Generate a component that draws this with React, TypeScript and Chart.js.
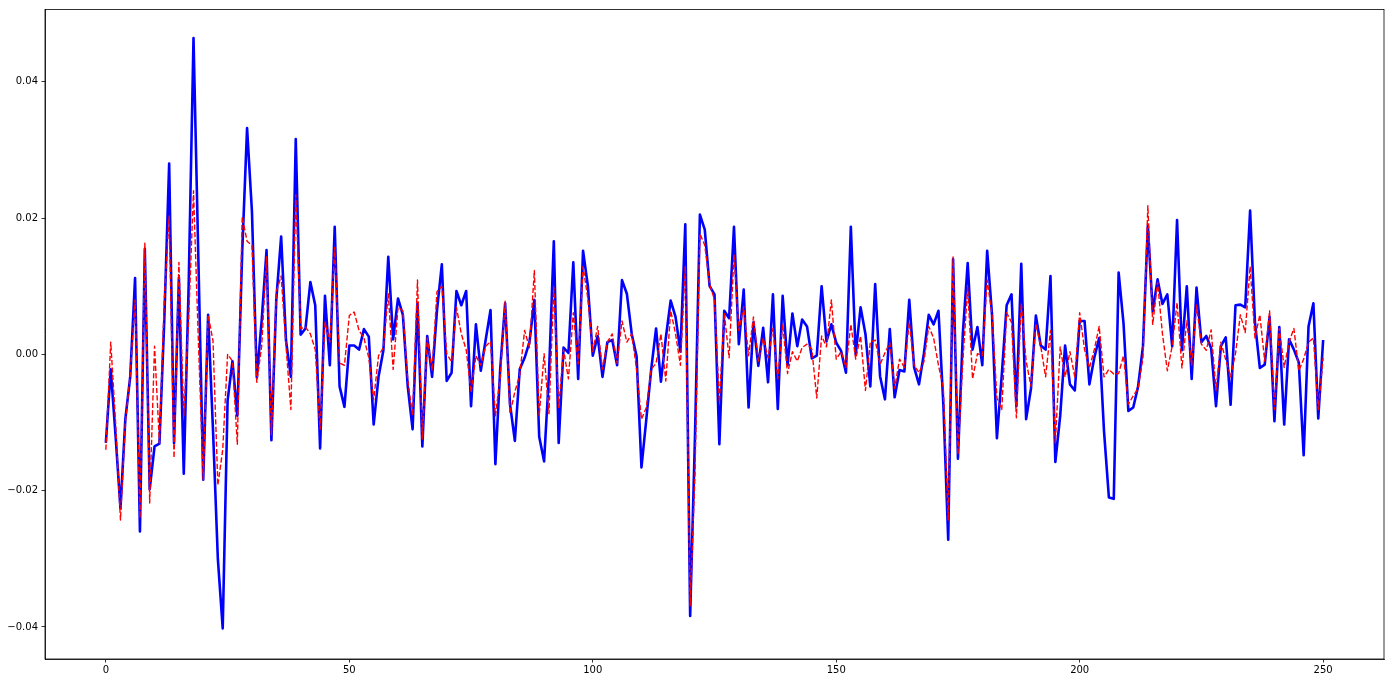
import React, { useEffect, useRef } from "react";
import { Chart, registerables } from "chart.js";

Chart.register(...registerables);

// actual series (blue, solid)
const actualValues: number[] = [
  -0.0130, -0.0022, -0.0120, -0.0226, -0.0095, -0.0033, 0.0112, -0.0260, 0.0155, -0.0198,
  -0.0135, -0.0131, 0.0050, 0.0280, -0.0130, 0.0112, -0.0175, 0.0100, 0.0464, 0.0140,
  -0.0184, 0.0058, -0.0110, -0.0300, -0.0402, -0.0068, -0.0010, -0.0090, 0.0150, 0.0332,
  0.0210, -0.0034, 0.0050, 0.0153, -0.0126, 0.0080, 0.0173, 0.0020, -0.0033, 0.0316,
  0.0029, 0.0038, 0.0106, 0.0072, -0.0138, 0.0086, -0.0016, 0.0187, -0.0047, -0.0077,
  0.0013, 0.0013, 0.0007, 0.0037, 0.0026, -0.0103, -0.0033, 0.0006, 0.0143, 0.0022,
  0.0082, 0.0058, -0.0047, -0.0110, 0.0075, -0.0135, 0.0027, -0.0033, 0.0064, 0.0132,
  -0.0039, -0.0027, 0.0093, 0.0072, 0.0093, -0.0076, 0.0044, -0.0024, 0.0021, 0.0065,
  -0.0161, -0.0020, 0.0075, -0.0073, -0.0127, -0.0022, -0.0005, 0.0018, 0.0080, -0.0121,
  -0.0157, -0.0030, 0.0166, -0.0130, 0.0010, 0.0002, 0.0135, -0.0036, 0.0152, 0.0100,
  -0.0002, 0.0027, -0.0033, 0.0018, 0.0021, -0.0016, 0.0109, 0.0089, 0.0030, -0.0003,
  -0.0166, -0.0095, -0.0022, 0.0038, -0.0040, 0.0024, 0.0079, 0.0055, 0.0004, 0.0191,
  -0.0384, -0.0118, 0.0205, 0.0183, 0.0100, 0.0088, -0.0132, 0.0064, 0.0053, 0.0187,
  0.0015, 0.0095, -0.0078, 0.0047, -0.0017, 0.0039, -0.0041, 0.0088, -0.0080, 0.0086,
  -0.0016, 0.0060, 0.0012, 0.0051, 0.0041, -0.0006, -0.0002, 0.0100, 0.0019, 0.0044,
  0.0017, 0.0005, -0.0027, 0.0187, 0.0000, 0.0069, 0.0030, -0.0047, 0.0103, -0.0032,
  -0.0066, 0.0037, -0.0063, -0.0023, -0.0025, 0.0080, -0.0019, -0.0044, 0.0001, 0.0058,
  0.0044, 0.0064, -0.0073, -0.0272, 0.0140, -0.0153, 0.0030, 0.0134, 0.0007, 0.0040,
  -0.0016, 0.0152, 0.0058, -0.0123, -0.0030, 0.0072, 0.0088, -0.0076, 0.0133, -0.0095,
  -0.0050, 0.0057, 0.0013, 0.0007, 0.0115, -0.0158, -0.0090, 0.0013, -0.0044, -0.0053,
  0.0049, 0.0049, -0.0044, -0.0005, 0.0024, -0.0113, -0.0210, -0.0212, 0.0120, 0.0046,
  -0.0083, -0.0078, -0.0047, 0.0012, 0.0189, 0.0063, 0.0110, 0.0074, 0.0088, 0.0012,
  0.0197, 0.0006, 0.0100, -0.0036, 0.0098, 0.0018, 0.0027, 0.0009, -0.0076, 0.0012,
  0.0025, -0.0074, 0.0072, 0.0073, 0.0069, 0.0211, 0.0047, -0.0020, -0.0015, 0.0055,
  -0.0098, 0.0040, -0.0103, 0.0022, 0.0007, -0.0012, -0.0148, 0.0041, 0.0075, -0.0094,
  0.0021,
];

// predicted series (red, dashed)
const predictedValues: number[] = [
  -0.0140, 0.0018, -0.0100, -0.0243, -0.0100, -0.0030, 0.0080, -0.0240, 0.0163, -0.0218,
  0.0012, -0.0130, 0.0080, 0.0203, -0.0152, 0.0135, -0.0090, 0.0050, 0.0240, 0.0020,
  -0.0184, 0.0058, 0.0020, -0.0192, -0.0140, 0.0000, -0.0010, -0.0132, 0.0202, 0.0166,
  0.0160, -0.0041, 0.0012, 0.0143, -0.0118, 0.0092, 0.0115, 0.0012, -0.0081, 0.0234,
  0.0038, 0.0040, 0.0030, 0.0007, -0.0110, 0.0047, 0.0018, 0.0157, -0.0013, -0.0016,
  0.0057, 0.0062, 0.0035, 0.0024, -0.0005, -0.0067, -0.0002, 0.0010, 0.0089, -0.0022,
  0.0069, 0.0064, -0.0038, -0.0090, 0.0109, -0.0124, 0.0024, -0.0024, 0.0092, 0.0100,
  0.0001, -0.0011, 0.0069, 0.0030, 0.0007, -0.0056, -0.0002, -0.0016, 0.0012, 0.0019,
  -0.0090, -0.0033, 0.0078, -0.0087, -0.0055, -0.0030, 0.0035, 0.0010, 0.0123, -0.0090,
  0.0001, -0.0087, 0.0098, -0.0078, 0.0007, -0.0036, 0.0061, -0.0014, 0.0129, 0.0081,
  0.0004, 0.0041, -0.0022, 0.0018, 0.0030, -0.0013, 0.0049, 0.0018, 0.0030, -0.0022,
  -0.0095, -0.0078, -0.0022, -0.0013, 0.0030, -0.0039, 0.0064, 0.0030, -0.0016, 0.0129,
  -0.0369, -0.0175, 0.0177, 0.0160, 0.0103, 0.0080, -0.0070, 0.0061, -0.0005, 0.0146,
  0.0035, 0.0070, -0.0002, 0.0055, -0.0010, 0.0024, -0.0005, 0.0038, -0.0036, 0.0044,
  -0.0028, 0.0004, -0.0010, 0.0010, 0.0015, 0.0007, -0.0064, 0.0027, 0.0011, 0.0080,
  -0.0007, 0.0004, -0.0019, 0.0044, -0.0007, 0.0027, -0.0053, 0.0018, 0.0021, -0.0015,
  0.0002, 0.0017, -0.0050, -0.0007, -0.0019, 0.0047, -0.0016, -0.0027, -0.0011, 0.0041,
  0.0024, -0.0016, -0.0050, -0.0243, 0.0143, -0.0147, -0.0010, 0.0098, -0.0036, 0.0001,
  -0.0002, 0.0109, 0.0058, -0.0064, -0.0081, 0.0061, 0.0047, -0.0093, 0.0075, -0.0010,
  -0.0047, 0.0045, 0.0012, -0.0033, 0.0035, -0.0130, 0.0011, -0.0033, 0.0004, -0.0033,
  0.0061, 0.0007, -0.0020, 0.0007, 0.0041, -0.0033, -0.0022, -0.0029, -0.0028, -0.0002,
  -0.0073, -0.0061, -0.0050, -0.0005, 0.0218, 0.0044, 0.0106, 0.0030, -0.0024, 0.0012,
  0.0076, -0.0020, 0.0049, -0.0016, 0.0072, 0.0015, 0.0006, 0.0036, -0.0053, 0.0018,
  -0.0008, -0.0033, 0.0001, 0.0058, 0.0032, 0.0129, 0.0024, 0.0058, -0.0010, 0.0064,
  -0.0081, 0.0038, -0.0019, 0.0018, 0.0038, -0.0024, -0.0007, 0.0018, 0.0024, -0.0081,
  -0.0005,
];

const xTickValues: number[] = [0, 50, 100, 150, 200, 250];
const yTickValues: number[] = [-0.04, -0.02, 0.0, 0.02, 0.04];

const framePlugin = {
  id: "frameBox",
  afterDraw(chart: any) {
    const { ctx, chartArea } = chart;
    ctx.save();
    ctx.strokeStyle = "#000";
    ctx.lineWidth = 0.8;
    ctx.strokeRect(chartArea.left, chartArea.top, chartArea.right - chartArea.left, chartArea.bottom - chartArea.top);
    ctx.restore();
  },
};

export default function App() {
  const canvasRef = useRef<HTMLCanvasElement | null>(null);

  useEffect(() => {
    if (!canvasRef.current) return;
    const toPoints = (arr: number[]) => arr.map((v, i) => ({ x: i, y: v }));
    const font = { family: "'DejaVu Sans', sans-serif", size: 10 };
    const chart = new Chart(canvasRef.current, {
      type: "line",
      data: {
        datasets: [
          {
            label: "actual",
            data: toPoints(actualValues),
            borderColor: "#0000ff",
            borderWidth: 2.6,
            pointRadius: 0,
            tension: 0,
            borderJoinStyle: "round",
            order: 2,
          },
          {
            label: "predicted",
            data: toPoints(predictedValues),
            borderColor: "#ff0000",
            borderWidth: 1.4,
            borderDash: [5.2, 2.2],
            pointRadius: 0,
            tension: 0,
            borderJoinStyle: "round",
            order: 1,
          },
        ],
      },
      options: {
        responsive: false,
        animation: false,
        layout: { padding: { left: 0, top: 6, right: 7, bottom: 0 } },
        plugins: {
          legend: { display: false },
          tooltip: { enabled: false },
        },
        scales: {
          x: {
            type: "linear",
            min: -12.5,
            max: 262.5,
            afterBuildTicks: (scale: any) => {
              scale.ticks = xTickValues.map((v) => ({ value: v }));
            },
            afterFit: (scale: any) => {
              scale.height = 24;
            },
            grid: { display: true, drawOnChartArea: false, drawTicks: true, tickLength: 3.5, tickColor: "#000", tickWidth: 0.8 },
            border: { display: true, color: "#000", width: 0.8 },
            ticks: {
              color: "#000",
              font,
              padding: 2,
              maxRotation: 0,
              autoSkip: false,
              callback: (v: any) => String(v),
            },
          },
          y: {
            type: "linear",
            min: -0.0447,
            max: 0.0506,
            afterBuildTicks: (scale: any) => {
              scale.ticks = yTickValues.map((v) => ({ value: v }));
            },
            afterFit: (scale: any) => {
              scale.width = 45;
            },
            grid: { display: true, drawOnChartArea: false, drawTicks: true, tickLength: 3.5, tickColor: "#000", tickWidth: 0.8 },
            border: { display: true, color: "#000", width: 0.8 },
            ticks: {
              color: "#000",
              font,
              padding: 3.5,
              autoSkip: false,
              callback: (v: any) => Number(v).toFixed(2).replace("-", "\u2212"),
            },
          },
        },
      },
      plugins: [framePlugin],
    });
    return () => chart.destroy();
  }, []);

  return (
    <div style={{ position: "fixed", left: 0, top: 0, width: 1391, height: 683, background: "#fff" }}>
      <canvas ref={canvasRef} width={1391} height={683} />
    </div>
  );
}
